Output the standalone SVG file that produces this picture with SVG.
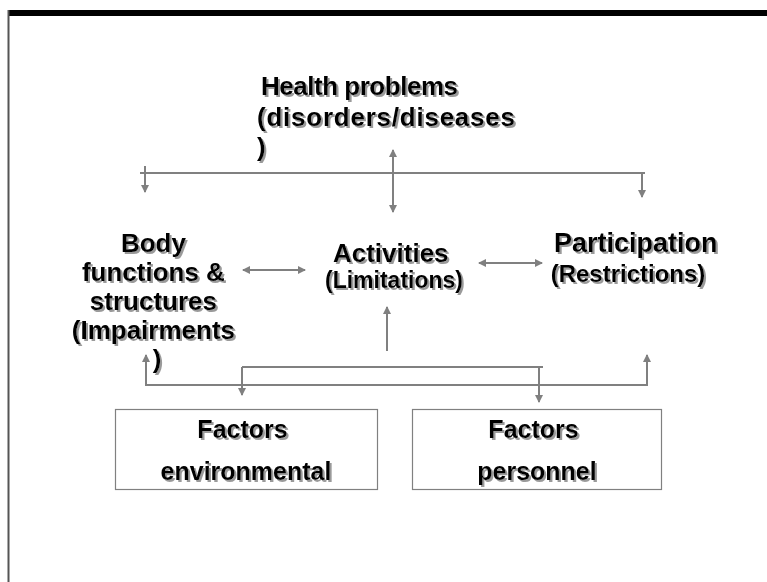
<svg xmlns="http://www.w3.org/2000/svg" width="767" height="582" viewBox="0 0 767 582">
  <defs>
    <filter id="shadow" x="-10%" y="-10%" width="130%" height="140%">
      <feDropShadow dx="2" dy="2" stdDeviation="0.4" flood-color="#9a9a9a" flood-opacity="1"/>
    </filter>
    <marker id="ah" viewBox="0 0 8 8" refX="7" refY="4" markerWidth="4" markerHeight="4" orient="auto-start-reverse" markerUnits="strokeWidth">
      <path d="M0,0 L8,4 L0,8 Z" fill="#808080"/>
    </marker>
    <style>
      .t { font-family: "Liberation Sans", Arial, sans-serif; font-weight: bold; fill: #000; }
      .c { stroke: #808080; stroke-width: 2; fill: none; }
      .a { marker-end: url(#ah); }
      .aa { marker-start: url(#ah); marker-end: url(#ah); }
      .box { fill: #fff; stroke: #808080; stroke-width: 1.2; }
    </style>
  </defs>
  <rect x="0" y="0" width="767" height="582" fill="#fff"/>
  <rect x="8" y="10" width="759" height="6" fill="#000"/>
  <line x1="8.5" y1="10" x2="8.5" y2="582" stroke="#555" stroke-width="2"/>

  <g id="connectors">
    <line class="c" x1="140" y1="173" x2="645" y2="173"/>
    <line class="c a" x1="145" y1="166" x2="145" y2="192"/>
    <line class="c a" x1="642" y1="173" x2="642" y2="197"/>
    <line class="c aa" x1="393" y1="150" x2="393" y2="212"/>
    <line class="c aa" x1="243" y1="270" x2="305" y2="270"/>
    <line class="c aa" x1="479" y1="263" x2="542" y2="263"/>
    <line class="c a" x1="387" y1="351" x2="387" y2="307"/>
    <line class="c" x1="145" y1="385" x2="648" y2="385"/>
    <line class="c a" x1="146" y1="385" x2="146" y2="355"/>
    <line class="c a" x1="647" y1="385" x2="647" y2="355"/>
    <line class="c" x1="242" y1="367" x2="543" y2="367"/>
    <line class="c a" x1="242" y1="367" x2="242" y2="395"/>
    <line class="c a" x1="539" y1="367" x2="539" y2="402"/>
  </g>

  <g id="health" filter="url(#shadow)">
    <text class="t" font-size="26" x="261" y="95" textLength="197" lengthAdjust="spacing">Health problems</text>
    <text class="t" font-size="26" x="257" y="126" textLength="258" lengthAdjust="spacing">(disorders/diseases</text>
    <text class="t" font-size="26" x="257" y="156">)</text>
  </g>

  <g id="body" filter="url(#shadow)">
    <text class="t" font-size="26" text-anchor="middle">
      <tspan x="157" y="252">Body</tspan>
      <tspan x="157" y="281">functions &amp;</tspan>
      <tspan x="157" y="310">structures</tspan>
      <tspan x="157" y="339">(Impairments</tspan>
      <tspan x="157" y="368">)</tspan>
    </text>
  </g>

  <g id="activities" filter="url(#shadow)">
    <text class="t" text-anchor="middle">
      <tspan x="393" y="262" font-size="26">Activities</tspan>
      <tspan x="394" y="288" font-size="23">(Limitations)</tspan>
    </text>
  </g>

  <g id="participation" filter="url(#shadow)">
    <text class="t" text-anchor="middle">
      <tspan x="638" y="252" font-size="27">Participation</tspan>
      <tspan x="628" y="282" font-size="24">(Restrictions)</tspan>
    </text>
  </g>

  <g id="environmental">
    <rect class="box" x="115.5" y="409.5" width="262" height="80"/>
    <text class="t" font-size="25" text-anchor="middle" filter="url(#shadow)">
      <tspan x="246" y="438">Factors</tspan>
      <tspan x="246" y="480">environmental</tspan>
    </text>
  </g>

  <g id="personnel">
    <rect class="box" x="412.5" y="409.5" width="249" height="80"/>
    <text class="t" font-size="25" text-anchor="middle" filter="url(#shadow)">
      <tspan x="537" y="438">Factors</tspan>
      <tspan x="537" y="480">personnel</tspan>
    </text>
  </g>
</svg>
